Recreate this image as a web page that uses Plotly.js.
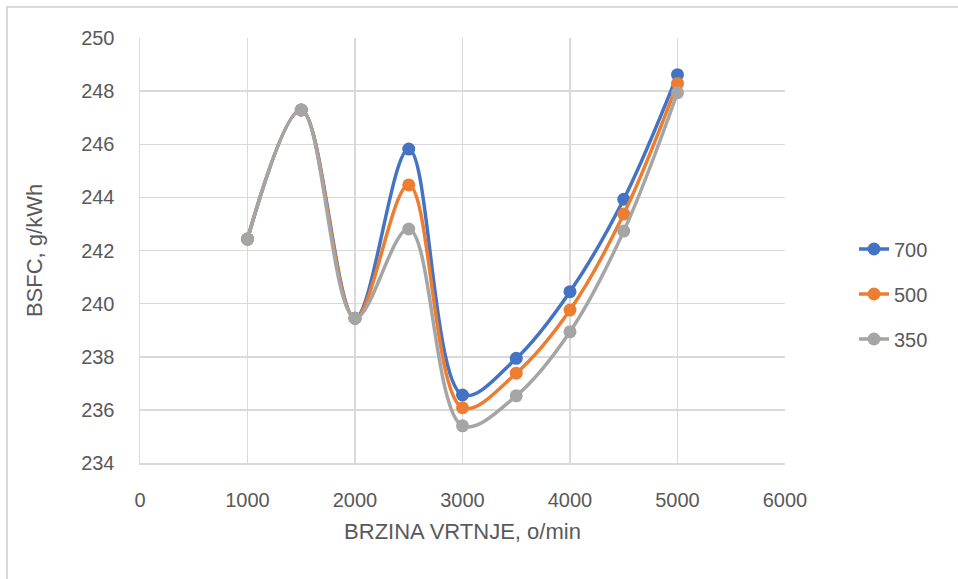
<!DOCTYPE html>
<html>
<head>
<meta charset="utf-8">
<script src="https://cdn.plot.ly/plotly-3.0.1.min.js"></script>
<style>html,body{margin:0;padding:0;background:#fff;}#chart{width:958px;height:579px;}</style>
</head>
<body>
<div id="chart"></div>
<script>
const speeds = [1000, 1500, 2000, 2500, 3000, 3500, 4000, 4500, 5000];
const bsfc700 = [242.43, 247.29, 239.45, 245.82, 236.56, 237.94, 240.45, 243.93, 248.62];
const bsfc500 = [242.43, 247.29, 239.45, 244.47, 236.08, 237.38, 239.76, 243.37, 248.29];
const bsfc350 = [242.43, 247.29, 239.45, 242.81, 235.40, 236.53, 238.94, 242.73, 247.94];
const seriesNames = ['700', '500', '350'];
const seriesColors = ['#4472C4', '#ED7D31', '#A5A5A5'];
const xTickVals = [0, 1000, 2000, 3000, 4000, 5000, 6000];
const yTickVals = [234, 236, 238, 240, 242, 244, 246, 248, 250];

const allSeries = [bsfc700, bsfc500, bsfc350];
const traces = allSeries.map((ys, i) => ({
  x: speeds, y: ys, name: seriesNames[i], type: 'scatter', mode: 'lines+markers',
  line: {color: seriesColors[i], width: 3.5, shape: 'spline', smoothing: 1},
  marker: {color: seriesColors[i], size: 13},
  legendgroup: 'g' + i
}));

const L = 140, R = 785, T = 38, B = 463;
const W = 958, H = 579;
const pw = R - L, ph = B - T;

const layout = {
  width: W, height: H,
  margin: {l: L, r: W - R, t: T, b: H - B},
  paper_bgcolor: '#ffffff', plot_bgcolor: '#ffffff',
  font: {family: '"Liberation Sans", Arial, sans-serif', color: '#595959'},
  showlegend: true,
  legend: {x: (854 - L) / pw, xanchor: 'left', y: (B - 294) / ph, yanchor: 'middle',
           font: {size: 20, color: '#595959'}, tracegroupgap: 16, bgcolor: 'rgba(0,0,0,0)'},
  xaxis: {range: [0, 6000], tickvals: xTickVals, ticktext: xTickVals.map(String),
          showgrid: true, gridcolor: '#d9d9d9', gridwidth: 1.5, zeroline: false,
          showline: true, linecolor: '#d9d9d9', linewidth: 1.5, ticks: '',
          tickfont: {size: 20, color: '#595959'}, ticklabelstandoff: 18,
          title: {text: 'BRZINA VRTNJE, o/min', font: {size: 22, color: '#595959'}, standoff: 14}},
  yaxis: {range: [234, 250], tickvals: yTickVals, ticktext: yTickVals.map(String),
          showgrid: true, gridcolor: '#d9d9d9', gridwidth: 1.5, zeroline: false,
          showline: true, linecolor: '#d9d9d9', linewidth: 1.5, ticks: '',
          tickfont: {size: 20, color: '#595959'}, ticklabelstandoff: 20,
          title: {text: 'BSFC, g/kWh', font: {size: 22, color: '#595959'}, standoff: 32}},
  shapes: [{type: 'rect', xref: 'paper', yref: 'paper',
            x0: (7 - L) / pw, x1: (965 - L) / pw, y0: (B - 590) / ph, y1: (B - 7) / ph,
            line: {color: '#d9d9d9', width: 2}, fillcolor: 'rgba(0,0,0,0)', layer: 'below'}]
};

Plotly.newPlot('chart', traces, layout, {staticPlot: true, displayModeBar: false});
</script>
</body>
</html>
